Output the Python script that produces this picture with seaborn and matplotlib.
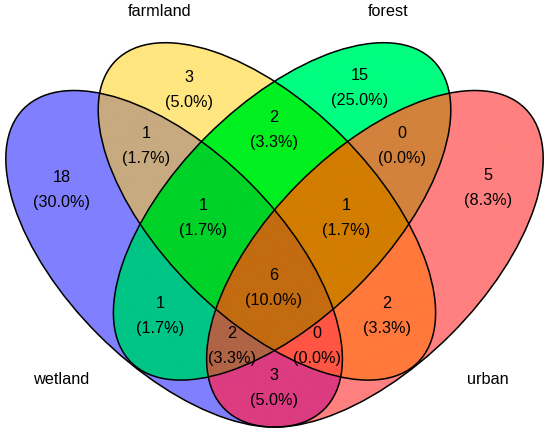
import numpy as np
import seaborn as sns
import matplotlib.pyplot as plt
from matplotlib.patches import Ellipse

# ---- data ----
set_names = ["wetland", "farmland", "forest", "urban"]
# membership of each region: (wetland, farmland, forest, urban)
regions = [
    (1, 0, 0, 0), (0, 1, 0, 0), (0, 0, 1, 0), (0, 0, 0, 1),
    (1, 1, 0, 0), (0, 1, 1, 0), (0, 0, 1, 1), (1, 0, 1, 0),
    (0, 1, 0, 1), (1, 0, 0, 1), (1, 1, 1, 0), (0, 1, 1, 1),
    (1, 0, 1, 1), (1, 1, 0, 1), (1, 1, 1, 1),
]
counts = [18, 3, 15, 5, 1, 2, 0, 1, 2, 3, 1, 1, 2, 0, 6]

# ---- styling / layout ----
region_colors = {
    (1, 0, 0, 0): "#8080ff", (0, 1, 0, 0): "#ffe680", (0, 0, 1, 0): "#00ff80",
    (0, 0, 0, 1): "#ff8080", (1, 1, 0, 0): "#c8aa80", (0, 1, 1, 0): "#00f020",
    (0, 0, 1, 1): "#d2823c", (1, 0, 1, 0): "#00c585", (0, 1, 0, 1): "#ff783c",
    (1, 0, 0, 1): "#dc3c80", (1, 1, 1, 0): "#00d228", (0, 1, 1, 1): "#d27d00",
    (1, 0, 1, 1): "#b06446", (1, 1, 0, 1): "#ff5544", (1, 1, 1, 1): "#c36b10",
}
label_pos = {
    (1, 0, 0, 0): (62, 177), (0, 1, 0, 0): (189, 77), (0, 0, 1, 0): (360, 76),
    (0, 0, 0, 1): (488, 176), (1, 1, 0, 0): (146, 134), (0, 1, 1, 0): (274, 118),
    (0, 0, 1, 1): (402, 133), (1, 0, 1, 0): (160, 304), (0, 1, 0, 1): (387, 304),
    (1, 0, 0, 1): (274, 375), (1, 1, 1, 0): (203, 205), (0, 1, 1, 1): (346, 205),
    (1, 0, 1, 1): (232, 333), (1, 1, 0, 1): (317, 333), (1, 1, 1, 1): (274, 276),
}
name_pos = [(61, 379), (160, 12), (388, 12), (488, 379)]

# ellipse outlines (pixel space): centre x, centre y, semi-major, semi-minor, angle
ellipses = [
    (174.1, 258.8, 212.5, 107.2, 45),
    (266.9, 211.4, 213.5, 106.5, 45),
    (282.1, 211.4, 213.5, 106.5, 135),
    (374.9, 258.8, 212.5, 107.2, 135),
]

sns.set_theme(style="white")
plt.rcParams["font.family"] = ["Liberation Sans", "DejaVu Sans"]

fig = plt.figure(figsize=(5.5, 4.34), dpi=100)
ax = fig.add_axes([0, 0, 1, 1])
ax.set_xlim(0, 550)
ax.set_ylim(434, 0)
ax.axis("off")

# region fill
xs = np.linspace(0, 550, 1651)
ys = np.linspace(0, 434, 1303)
gx, gy = np.meshgrid(xs, ys)
inside = []
for cx, cy, a, b, ang in ellipses:
    t = np.radians(ang)
    dx, dy = gx - cx, gy - cy
    u = dx * np.cos(t) + dy * np.sin(t)
    v = -dx * np.sin(t) + dy * np.cos(t)
    inside.append((u / a) ** 2 + (v / b) ** 2 <= 1)

img = np.zeros(gx.shape + (4,))
for reg in regions:
    mask = np.ones(gx.shape, bool)
    for k, flag in enumerate(reg):
        mask &= inside[k] if flag else ~inside[k]
    rgb = sns.color_palette([region_colors[reg]])[0]
    img[mask] = (*rgb, 1.0)
ax.imshow(img, extent=(0, 550, 434, 0), interpolation="antialiased", zorder=1)

for cx, cy, a, b, ang in ellipses:
    ax.add_patch(Ellipse((cx, cy), 2 * a, 2 * b, angle=ang, fill=False,
                         ec="black", lw=1.1, zorder=2))

total = sum(counts)
for reg, n in zip(regions, counts):
    x, y = label_pos[reg]
    ax.text(x, y, f"{n}", ha="center", va="center", fontsize=11.7,
            color="black", zorder=3)
    ax.text(x, y + 25, f"({n / total * 100:.1f}%)", ha="center", va="center",
            fontsize=11.7, color="black", zorder=3)

for name, (x, y) in zip(set_names, name_pos):
    ax.text(x, y, name, ha="center", va="center", fontsize=11.7,
            color="black", zorder=3)

fig.savefig("out.png", dpi=100)
